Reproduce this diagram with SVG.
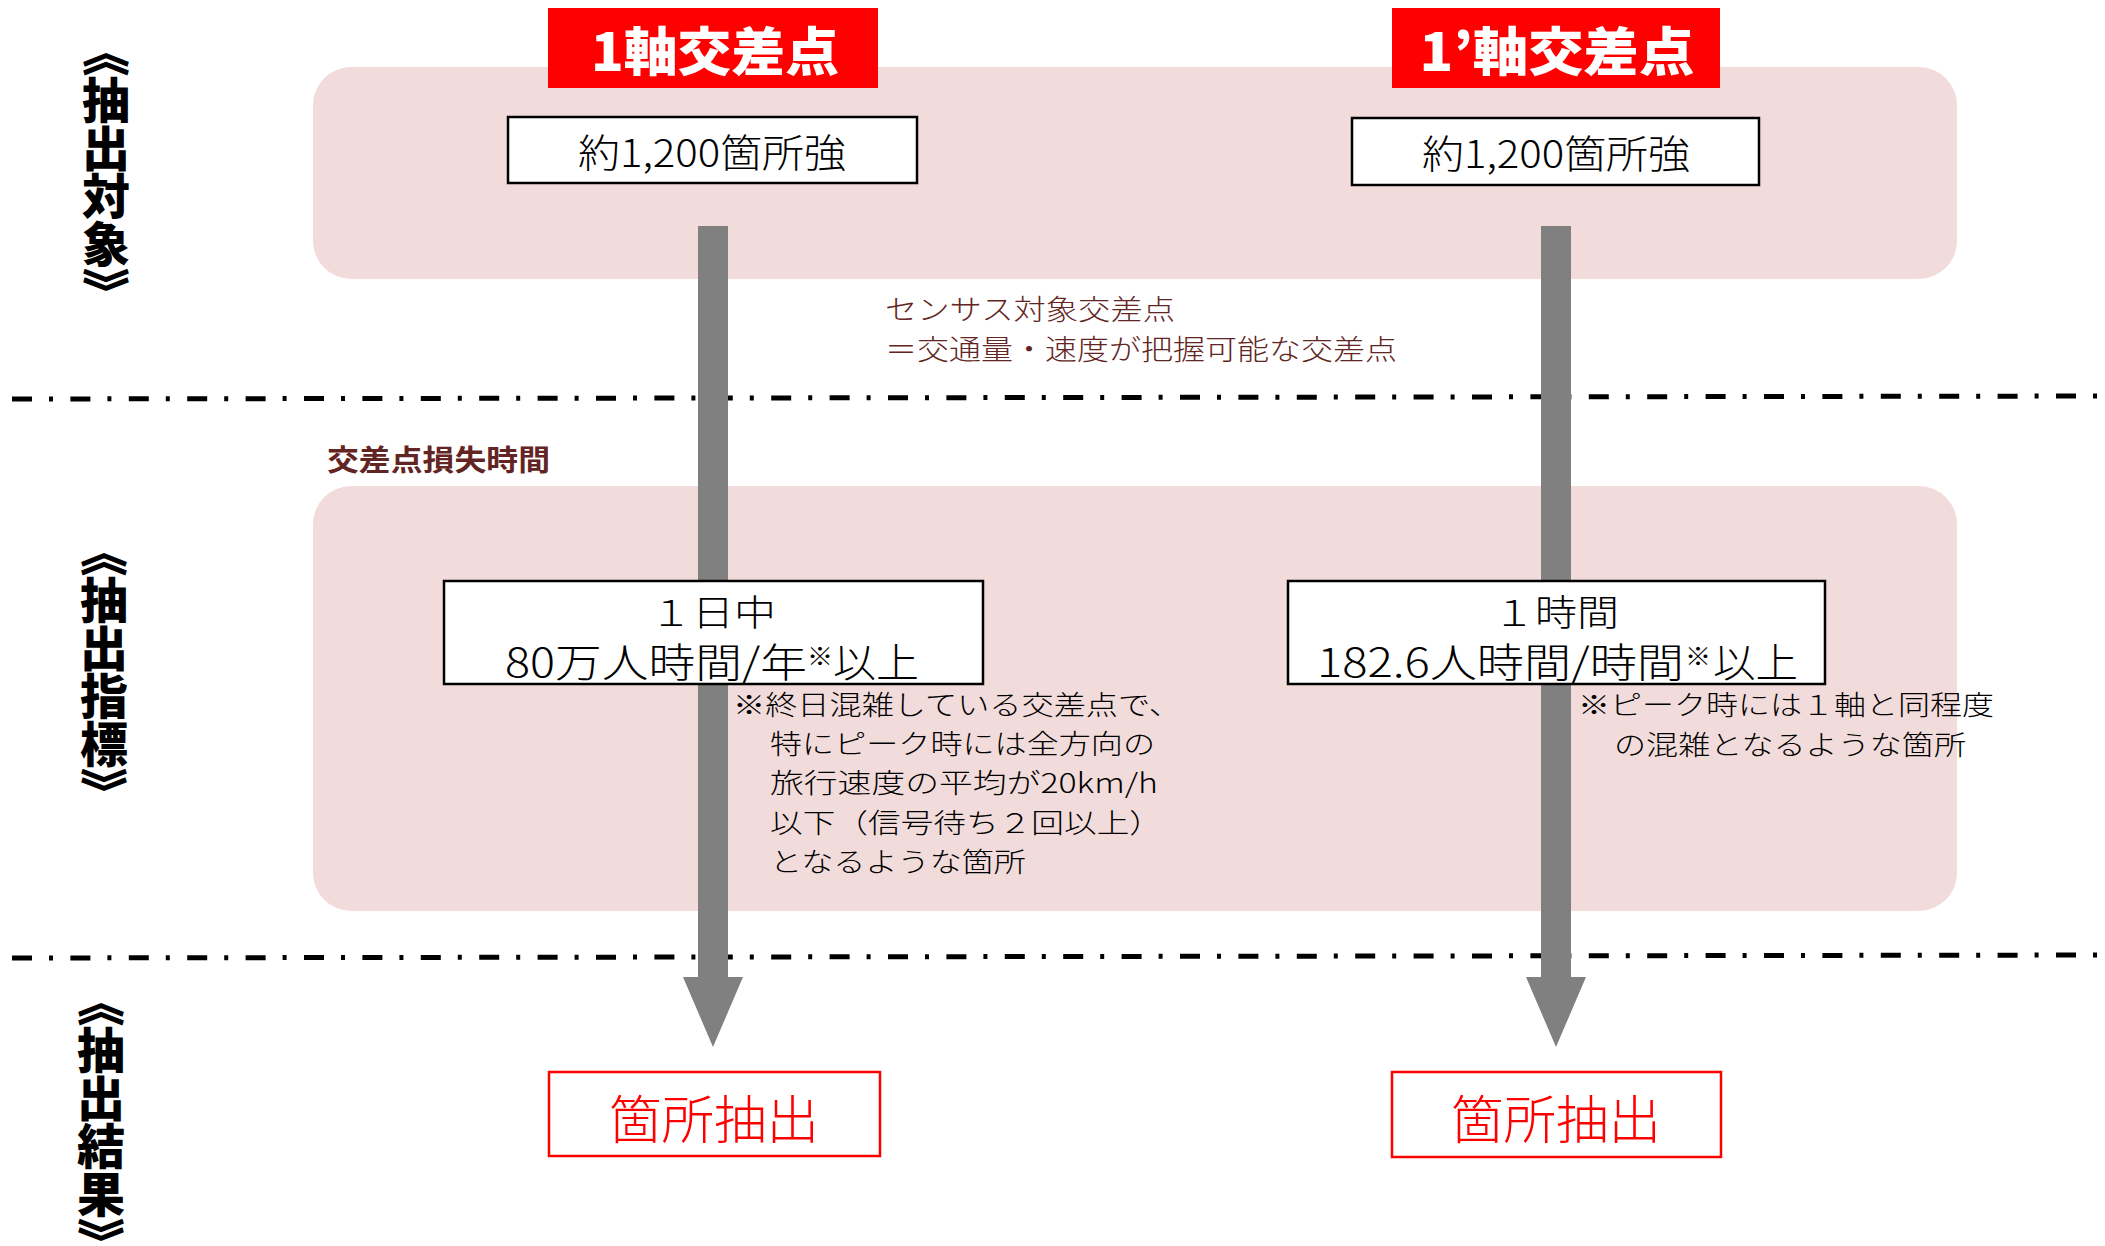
<svg xmlns="http://www.w3.org/2000/svg" width="2105" height="1246" viewBox="0 0 2105 1246">
<defs>
<style>
text{font-family:"Noto Sans CJK JP","Noto Sans",sans-serif;}
.band{fill:#F2DCDB;}
.side{font-size:48px;font-weight:900;fill:#000;writing-mode:vertical-rl;text-anchor:middle;}
.title-bg{fill:#FF0000;}
.title{font-size:52px;font-weight:900;fill:#fff;text-anchor:middle;}
.box{fill:#fff;stroke:#000;stroke-width:2.5;}
.count{font-size:39px;font-weight:300;fill:#000;text-anchor:middle;}
.crit{font-size:40px;font-weight:300;fill:#000;}
.crit1{font-size:36px;font-weight:300;fill:#000;text-anchor:middle;}
.sup{font-size:24px;font-weight:300;fill:#000;}
.note{font-size:27px;font-weight:300;fill:#000;}
.brown{font-size:28px;font-weight:300;fill:#632523;}
.loss{font-size:29px;font-weight:700;fill:#632523;}
.divider{fill:none;stroke:#000;stroke-width:5;stroke-dasharray:20 17 4 17.4;}
.arrow{fill:#808080;}
.res-box{fill:#fff;stroke:#FF0000;stroke-width:2.5;}
.res{font-size:52px;font-weight:300;fill:#FF0000;text-anchor:middle;}
</style>
</defs>
<rect width="2105" height="1246" fill="#fff"/>

<g id="band-target"><rect class="band" x="313" y="67" width="1644" height="212" rx="38" ry="38"/></g>
<g id="band-index"><rect class="band" x="313" y="486" width="1644" height="425" rx="38" ry="38"/></g>

<g id="dividers">
<line class="divider" x1="12" y1="399" x2="2105" y2="396"/>
<line class="divider" x1="12" y1="958" x2="2105" y2="955"/>
</g>

<g id="connectors">
<path class="arrow" d="M698,226 H728 V977 H743 L713,1047 L683,977 H698 Z"/>
<path class="arrow" d="M1541,226 H1571 V977 H1586 L1556,1047 L1526,977 H1541 Z"/>
</g>

<g id="side-target"><text class="side" x="106" y="172">《抽出対象》</text></g>
<g id="side-index"><text class="side" x="104" y="672">《抽出指標》</text></g>
<g id="side-result"><text class="side" x="101" y="1122">《抽出結果》</text></g>

<g id="title-1">
<rect class="title-bg" x="548" y="8" width="330" height="80"/>
<text class="title" x="715" y="71" textLength="248" lengthAdjust="spacingAndGlyphs">1軸交差点</text>
</g>
<g id="title-1p">
<rect class="title-bg" x="1392" y="8" width="328" height="80"/>
<text class="title" x="1557" y="71" textLength="275" lengthAdjust="spacingAndGlyphs">1’軸交差点</text>
</g>

<g id="count-1">
<rect class="box" x="508" y="117" width="409" height="66"/>
<text class="count" x="712" y="167" textLength="268" lengthAdjust="spacingAndGlyphs">約1,200箇所強</text>
</g>
<g id="count-1p">
<rect class="box" x="1352" y="118" width="407" height="67"/>
<text class="count" x="1556" y="168" textLength="268" lengthAdjust="spacingAndGlyphs">約1,200箇所強</text>
</g>

<g id="note-census">
<text class="brown" x="885" y="320" textLength="290" lengthAdjust="spacingAndGlyphs">センサス対象交差点</text>
<text class="brown" x="885" y="360" textLength="512" lengthAdjust="spacingAndGlyphs">＝交通量・速度が把握可能な交差点</text>
</g>

<g id="label-loss">
<text class="loss" x="327" y="471" textLength="223" lengthAdjust="spacingAndGlyphs">交差点損失時間</text>
</g>

<g id="crit-1">
<rect class="box" x="444" y="581" width="539" height="103"/>
<text class="crit1" x="713" y="626" textLength="126" lengthAdjust="spacingAndGlyphs">１日中</text>
<text class="crit" x="505" y="677" textLength="302" lengthAdjust="spacingAndGlyphs">80万人時間/年</text>
<text class="sup" x="807" y="665" textLength="26" lengthAdjust="spacingAndGlyphs">※</text>
<text class="crit" x="833" y="677" textLength="86" lengthAdjust="spacingAndGlyphs">以上</text>
</g>
<g id="crit-1p">
<rect class="box" x="1288" y="581" width="537" height="103"/>
<text class="crit1" x="1556" y="626" textLength="126" lengthAdjust="spacingAndGlyphs">１時間</text>
<text class="crit" x="1317" y="677" textLength="367" lengthAdjust="spacingAndGlyphs">182.6人時間/時間</text>
<text class="sup" x="1685" y="665" textLength="26" lengthAdjust="spacingAndGlyphs">※</text>
<text class="crit" x="1713" y="677" textLength="85" lengthAdjust="spacingAndGlyphs">以上</text>
</g>

<g id="note-1">
<text class="note" x="733" y="715" textLength="448" lengthAdjust="spacingAndGlyphs">※終日混雑している交差点で、</text>
<text class="note" x="770" y="754" textLength="385" lengthAdjust="spacingAndGlyphs">特にピーク時には全方向の</text>
<text class="note" x="770" y="793" textLength="388" lengthAdjust="spacingAndGlyphs">旅行速度の平均が20km/h</text>
<text class="note" x="770" y="833" textLength="392" lengthAdjust="spacingAndGlyphs">以下（信号待ち２回以上）</text>
<text class="note" x="770" y="872" textLength="256" lengthAdjust="spacingAndGlyphs">となるような箇所</text>
</g>
<g id="note-1p">
<text class="note" x="1578" y="715" textLength="416" lengthAdjust="spacingAndGlyphs">※ピーク時には１軸と同程度</text>
<text class="note" x="1614" y="755" textLength="352" lengthAdjust="spacingAndGlyphs">の混雑となるような箇所</text>
</g>

<g id="result-1">
<rect class="res-box" x="549" y="1072" width="331" height="84"/>
<text class="res" x="714" y="1139" textLength="210" lengthAdjust="spacingAndGlyphs">箇所抽出</text>
</g>
<g id="result-1p">
<rect class="res-box" x="1392" y="1072" width="329" height="85"/>
<text class="res" x="1556" y="1139" textLength="210" lengthAdjust="spacingAndGlyphs">箇所抽出</text>
</g>
</svg>
